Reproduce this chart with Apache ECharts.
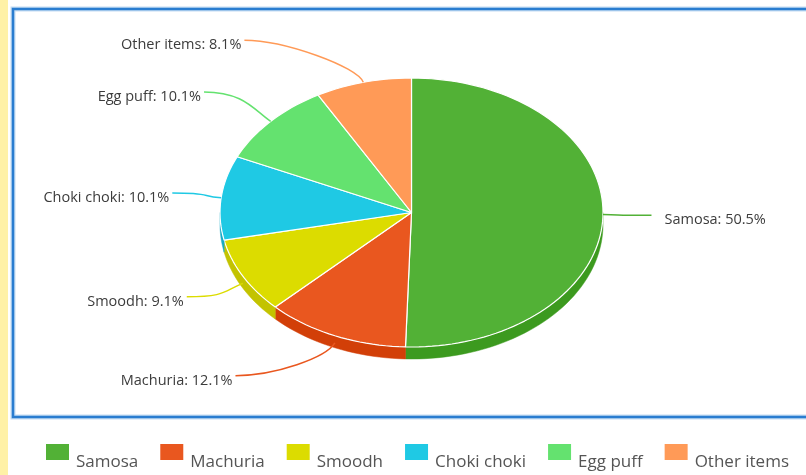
<!DOCTYPE html>
<html>
<head>
<meta charset="utf-8">
<script src="https://cdn.jsdelivr.net/npm/echarts@6/dist/echarts.min.js"></script>
<style>
html,body{margin:0;padding:0;background:#fff;}
#chart{width:806px;height:475px;}
</style>
</head>
<body>
<div id="chart"></div>
<script>
// ---- data ----
const categories = ['Samosa', 'Machuria', 'Smoodh', 'Choki choki', 'Egg puff', 'Other items'];
const shares = [50.5, 12.1, 9.1, 10.1, 10.1, 8.1];

// ---- styles ----
const topColors  = ['#52b136', '#e9571f', '#dcdc00', '#1fc9e4', '#64e26f', '#ff9a57'];
const sideColors = ['#3c9a1f', '#d23f08', '#c3c300', '#16aac6', '#4cc458', '#e67f3c'];

const chart = echarts.init(document.getElementById('chart'), null, {renderer: 'canvas'});

const total = shares.reduce((a, b) => a + b, 0);
const starts = [];
let acc = 0;
shares.forEach(v => { starts.push(acc); acc += v; });

// pie geometry (ellipse = tilted circle)
const G = {cx: 411.5, cy: 212.5, rx: 191.5, ry: 134.5, depth: 12, labR: 240, labRy: 178};

function pt(theta, dy) {
  return [G.cx + G.rx * Math.sin(theta), G.cy - G.ry * Math.cos(theta) + (dy || 0)];
}
function arc(a1, a2, dy) {
  const n = Math.max(2, Math.ceil((a2 - a1) / (Math.PI / 90)));
  const out = [];
  for (let i = 0; i <= n; i++) out.push(pt(a1 + (a2 - a1) * i / n, dy));
  return out;
}

function makeRender(idx) {
  return function (params, api) {
    const v = api.value(0);
    const a1 = starts[idx] / total * Math.PI * 2;
    const a2 = a1 + v / total * Math.PI * 2;
    const children = [];
    // side (front half only)
    const s1 = Math.max(a1, Math.PI / 2), s2 = Math.min(a2, Math.PI * 1.5);
    if (s2 > s1) {
      const top = arc(s1, s2, 0);
      const bot = arc(s1, s2, G.depth).reverse();
      children.push({
        type: 'polygon', shape: {points: top.concat(bot)},
        style: {fill: sideColors[idx], stroke: sideColors[idx], lineWidth: 0.5}
      });
    }
    // top face
    children.push({
      type: 'polygon', shape: {points: [[G.cx, G.cy]].concat(arc(a1, a2, 0))},
      style: {fill: topColors[idx], stroke: '#ffffff', lineWidth: 1.2, lineJoin: 'round'}
    });
    // label + connector
    const m = (a1 + a2) / 2;
    const side = Math.sin(m) >= 0 ? 1 : -1;
    const ddy = -G.labRy * Math.cos(m);
    const lx = G.cx + side * Math.sqrt(G.labR * G.labR - ddy * ddy);
    const ly = G.cy + ddy;
    const edge = pt(m, Math.cos(m) < -0.3 ? G.depth * 0.6 : 0);
    const cp1 = [edge[0] + Math.sin(m) * 22, edge[1] - Math.cos(m) * 16];
    const cp2 = [lx + side * -40, ly];
    children.push({
      type: 'bezierCurve',
      shape: {x1: lx, y1: ly, cpx1: cp2[0], cpy1: cp2[1], cpx2: cp1[0], cpy2: cp1[1], x2: edge[0], y2: edge[1]},
      style: {stroke: topColors[idx], lineWidth: 1.5, fill: null}
    });
    children.push({
      type: 'text',
      x: side > 0 ? lx + 13 : lx - 3,
      y: ly + 5,
      style: {
        text: categories[idx] + ': ' + (v / total * 100).toFixed(1) + '%',
        fill: '#3c3c3c', font: '14.5px "Open Sans"',
        align: side > 0 ? 'left' : 'right', verticalAlign: 'middle'
      }
    });
    return {type: 'group', children: children};
  };
}

const series = categories.map((name, i) => ({
  type: 'custom',
  name: name,
  coordinateSystem: 'none',
  itemStyle: {color: topColors[i]},
  renderItem: makeRender(i),
  data: [[shares[i]]],
  silent: true
}));

chart.setOption({
  backgroundColor: '#ffffff',
  animation: false,
  graphic: [
    {type: 'rect', shape: {x: 0, y: 0, width: 8, height: 475}, style: {fill: '#fff1a6'}, z: -10},
    {type: 'rect', shape: {x: 13, y: 9, width: 820, height: 408}, style: {fill: null, stroke: '#c3dcf3', lineWidth: 5}, z: -9},
    {type: 'rect', shape: {x: 13, y: 9, width: 820, height: 408}, style: {fill: null, stroke: '#2a7dd0', lineWidth: 2.5}, z: -8}
  ],
  legend: {
    left: 46, top: 444, padding: 0,
    itemWidth: 23, itemHeight: 16, itemGap: 22,
    icon: 'rect',
    data: categories,
    formatter: n => '{t|' + n + '}',
    textStyle: {
      rich: {t: {fontFamily: 'Open Sans', fontSize: 17, color: '#555', padding: [20, 0, 0, 2]}}
    }
  },
  series: series
});
</script>
</body>
</html>
